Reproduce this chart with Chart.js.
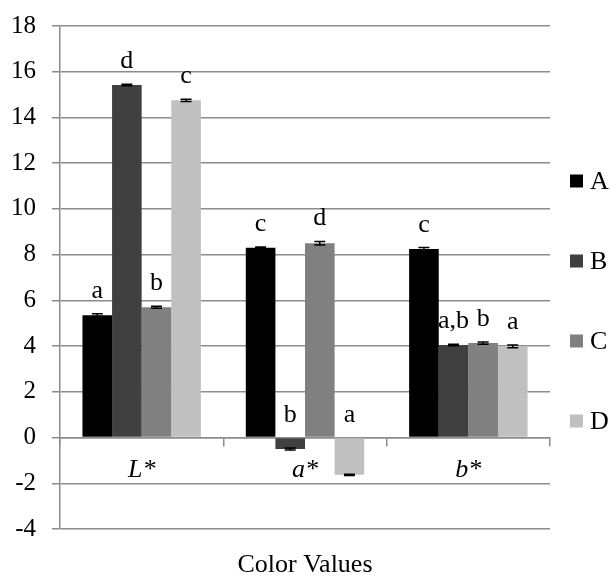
<!DOCTYPE html>
<html>
<head>
<meta charset="utf-8">
<title>Color Values</title>
<script src="https://cdn.jsdelivr.net/npm/chart.js@4.4.1/dist/chart.umd.min.js"></script>
<style>
  html, body { margin: 0; padding: 0; background: #fff; }
  #wrap { width: 611px; height: 576px; }
</style>
</head>
<body>
<div id="wrap"><canvas id="chart" width="611" height="576"></canvas></div>
<script>
// ── Data ─────────────────────────────────────────────────────
const categories = ['L*', 'a*', 'b*'];
const seriesNames = ['A', 'B', 'C', 'D'];

const valuesA = [5.35, 8.3, 8.25];
const valuesB = [15.42, -0.5, 4.05];
const valuesC = [5.7, 8.5, 4.13];
const valuesD = [14.75, -1.63, 3.99];

const errorsA = [0.06, 0.03, 0.06];
const errorsB = [0.03, 0.04, 0.03];
const errorsC = [0.04, 0.08, 0.05];
const errorsD = [0.05, 0.03, 0.06];

const lettersA = ['a', 'c', 'c'];
const lettersB = ['d', 'b', 'a,b'];
const lettersC = ['b', 'd', 'b'];
const lettersD = ['c', 'a', 'a'];

const yTicks = { min: -4, max: 18, step: 2 };

// ── Styles ───────────────────────────────────────────────────
const SERIF = "'Liberation Serif', 'Times New Roman', serif";
const GRID = '#8c8c8c';
const colors = ['#000000', '#404040', '#808080', '#c0c0c0'];

const allValues = [valuesA, valuesB, valuesC, valuesD];
const allErrors = [errorsA, errorsB, errorsC, errorsD];
const allLetters = [lettersA, lettersB, lettersC, lettersD];

// error bars + significance letters, drawn through the scales
const annotations = {
  id: 'annotations',
  afterDatasetsDraw(chart) {
    const ctx = chart.ctx;
    const y = chart.scales.y;
    ctx.save();
    chart.data.datasets.forEach((ds, di) => {
      const meta = chart.getDatasetMeta(di);
      meta.data.forEach((bar, i) => {
        const v = ds.data[i];
        const err = ds.errors[i];
        const x = bar.x;
        const yHi = y.getPixelForValue(v + err);
        const yLo = y.getPixelForValue(v - err);
        ctx.strokeStyle = '#000';
        ctx.lineWidth = 1.5;
        ctx.beginPath();
        ctx.moveTo(x, yHi); ctx.lineTo(x, yLo);
        ctx.moveTo(x - 5.5, yHi); ctx.lineTo(x + 5.5, yHi);
        ctx.moveTo(x - 5.5, yLo); ctx.lineTo(x + 5.5, yLo);
        ctx.stroke();

        const top = y.getPixelForValue(Math.max(v + err, 0));
        ctx.fillStyle = '#000';
        ctx.font = '26px ' + SERIF;
        ctx.textAlign = 'center';
        ctx.textBaseline = 'alphabetic';
        ctx.fillText(ds.letters[i], x, top - 16);
      });
    });
    ctx.restore();
  }
};

// legend at the right, spaced like the original
const sideLegend = {
  id: 'sideLegend',
  afterDraw(chart) {
    const ctx = chart.ctx;
    const area = chart.chartArea;
    const x0 = area.right + 20;
    const firstY = 181, gap = 80;
    ctx.save();
    ctx.font = '26px ' + SERIF;
    ctx.textBaseline = 'middle';
    ctx.textAlign = 'left';
    chart.data.datasets.forEach((ds, i) => {
      const cy = firstY + i * gap;
      ctx.fillStyle = ds.backgroundColor;
      ctx.fillRect(x0, cy - 6.5, 13, 13);
      ctx.fillStyle = '#000';
      ctx.fillText(ds.label, x0 + 20, cy + 1);
    });
    ctx.restore();
  }
};

const ctx = document.getElementById('chart').getContext('2d');
new Chart(ctx, {
  type: 'bar',
  data: {
    labels: categories,
    datasets: seriesNames.map((name, i) => ({
      label: name,
      data: allValues[i],
      errors: allErrors[i],
      letters: allLetters[i],
      backgroundColor: colors[i],
      borderWidth: 0,
      categoryPercentage: 0.725,
      barPercentage: 1
    }))
  },
  options: {
    responsive: false,
    animation: false,
    layout: { padding: { top: 26, left: 0, right: 61, bottom: 0 } },
    plugins: {
      legend: { display: false },
      tooltip: { enabled: false },
      title: {
        display: true,
        position: 'bottom',
        fullSize: false,
        text: 'Color Values',
        color: '#000',
        font: { family: SERIF, size: 26, weight: 'normal', lineHeight: 1 },
        padding: { top: 23, bottom: -2 }
      }
    },
    scales: {
      x: {
        position: { y: 0 },
        grid: {
          offset: true,
          drawOnChartArea: false,
          drawTicks: true,
          tickLength: 8,
          color: GRID,
          lineWidth: 1.5
        },
        border: { display: true, color: GRID, width: 1.5 },
        ticks: {
          color: '#000',
          padding: 9,
          font: { family: SERIF, size: 26, style: 'italic' }
        }
      },
      y: {
        min: yTicks.min,
        max: yTicks.max,
        afterFit(scale) {
          scale.width = 60;
          scale.paddingTop = 0;
          scale.paddingBottom = 0;
        },
        grid: { color: GRID, lineWidth: 1.5, tickLength: 8 },
        border: { display: true, color: GRID, width: 1.5 },
        ticks: {
          stepSize: yTicks.step,
          color: '#000',
          padding: 16,
          font: { family: SERIF, size: 25 }
        }
      }
    }
  },
  plugins: [annotations, sideLegend]
});
</script>
</body>
</html>
